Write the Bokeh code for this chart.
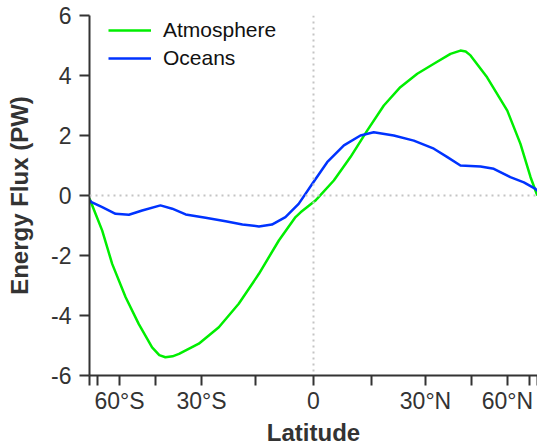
import json
import numpy as np
from bokeh.plotting import figure
from bokeh.models import (Range1d, FixedTicker, CustomJSTickFormatter, Span,
                          Legend, LegendItem)
from bokeh.embed import file_html
from bokeh.resources import INLINE

# ---- data (latitude in degrees, energy flux in PW) ----
atm_lat = [-90, -70.6, -64.0, -57.0, -51.3, -46.1, -43.5, -41.4, -39.0, -36.9, -30.8, -25.0,
           -19.5, -14.1, -8.9, -4.6, -3.3, 0.5, 0.9, 5.2, 9.5, 13.9, 18.3,
           22.8, 27.6, 32.5, 37.7, 41.0, 42.8, 44.5, 50.8, 59.9, 67.5, 75.7, 85.0, 90]
atm_flux = [-0.1, -1.17, -2.28, -3.39, -4.28, -5.06, -5.32, -5.39, -5.36, -5.28, -4.94, -4.39,
            -3.61, -2.61, -1.50, -0.72, -0.56, -0.17, -0.11, 0.50, 1.28, 2.17, 3.00,
            3.61, 4.06, 4.39, 4.72, 4.83, 4.80, 4.67, 3.94, 2.83, 1.72, 0.61, 0.06, 0.0]

ocn_lat = [-90, -82.3, -70.6, -62.1, -55.5, -49.9, -43.1, -39.1, -34.8, -28.8,
           -23.1, -18.5, -14.1, -10.7, -7.2, -3.8, -0.3, 3.5, 7.8, 12.1, 15.6,
           21.0, 26.6, 32.5, 36.7, 41.0, 48.2, 53.6, 61.5, 69.9, 82.3, 90]
ocn_flux = [-0.15, -0.22, -0.39, -0.61, -0.64, -0.50, -0.33, -0.44, -0.63, -0.74,
            -0.86, -0.97, -1.03, -0.97, -0.72, -0.28, 0.39, 1.11, 1.67, 2.00, 2.11,
            2.00, 1.83, 1.56, 1.28, 1.00, 0.97, 0.89, 0.61, 0.44, 0.22, 0.15]

tick_lats = [-90, -75, -60, -45, -30, -15, 0, 15, 30, 45, 60, 75, 90]
label_lats = [-60, -30, 0, 30, 60]
label_text = ["60°S", "30°S", "0", "30°N", "60°N"]
y_ticks = [-6, -4, -2, 0, 2, 4, 6]

series_names = ["Atmosphere", "Oceans"]
series_colors = ["#00ee00", "#0033ff"]

# ---- figure ----
AX = "#333333"
FONT = "Liberation Sans"

def s(lats):
    return list(np.sin(np.radians(np.asarray(lats, dtype=float))))

p = figure(width=537, height=448, output_backend="svg", toolbar_location=None,
           x_range=Range1d(-1, 1), y_range=Range1d(-6, 6),
           min_border_left=89, min_border_right=0, min_border_top=15,
           min_border_bottom=73)
p.outline_line_color = None
p.grid.visible = False
p.background_fill_color = "white"
p.border_fill_color = "white"

# reference lines
p.add_layout(Span(location=0, dimension="width", line_color="#c4c4c4",
                  line_width=2, line_dash="2 4"))
p.add_layout(Span(location=0, dimension="height", line_color="#c4c4c4",
                  line_width=2, line_dash="2 4"))

r_atm = p.line(s(atm_lat), atm_flux, line_color=series_colors[0], line_width=2.5,
               line_join="round")
r_ocn = p.line(s(ocn_lat), ocn_flux, line_color=series_colors[1], line_width=2.5,
               line_join="round")

# x axis (sin latitude)
minor = [t for t in tick_lats if t not in label_lats]
p.xaxis.ticker = FixedTicker(ticks=s(label_lats), minor_ticks=s(minor))
labels_map = {str(k): v for k, v in zip(label_lats, label_text)}
p.xaxis.formatter = CustomJSTickFormatter(code=(
    "const L = " + json.dumps(labels_map) + ";"
    "const t = Math.max(-1, Math.min(1, tick));"
    "const lat = Math.round(Math.asin(t) * 180 / Math.PI);"
    "return L[String(lat)] || '';"))
p.yaxis.ticker = FixedTicker(ticks=y_ticks)
p.yaxis.formatter = CustomJSTickFormatter(code="return String(Math.round(tick));")

for ax in (p.xaxis, p.yaxis):
    ax.axis_line_color = AX
    ax.axis_line_width = 2
    ax.major_tick_line_color = AX
    ax.major_tick_line_width = 2
    ax.major_tick_out = 10
    ax.major_tick_in = 0
    ax.minor_tick_line_color = AX
    ax.minor_tick_line_width = 2
    ax.minor_tick_out = 10
    ax.minor_tick_in = 0
    ax.major_label_text_font = FONT
    ax.major_label_text_font_size = "23px"
    ax.major_label_text_color = AX
    ax.axis_label_text_font = FONT
    ax.axis_label_text_font_size = "24px"
    ax.axis_label_text_font_style = "bold"
    ax.axis_label_text_color = AX

p.yaxis.minor_tick_line_color = None
p.xaxis.major_label_standoff = 2
p.yaxis.major_label_standoff = 8

p.yaxis.axis_label = "Energy Flux (PW)"
p.yaxis.axis_label_standoff = 15
p.xaxis.axis_label = "Latitude"
p.xaxis.axis_label_standoff = 2

legend = Legend(items=[LegendItem(label=series_names[0], renderers=[r_atm]),
                       LegendItem(label=series_names[1], renderers=[r_ocn])],
                location=(19, 305), margin=0, padding=0, spacing=4,
                glyph_width=43, glyph_height=24, label_standoff=12,
                label_text_font=FONT, label_text_font_size="21px",
                label_text_color="#111111",
                background_fill_alpha=0, border_line_color=None)
p.add_layout(legend)

open("out.html", "w").write(file_html(p, INLINE))
